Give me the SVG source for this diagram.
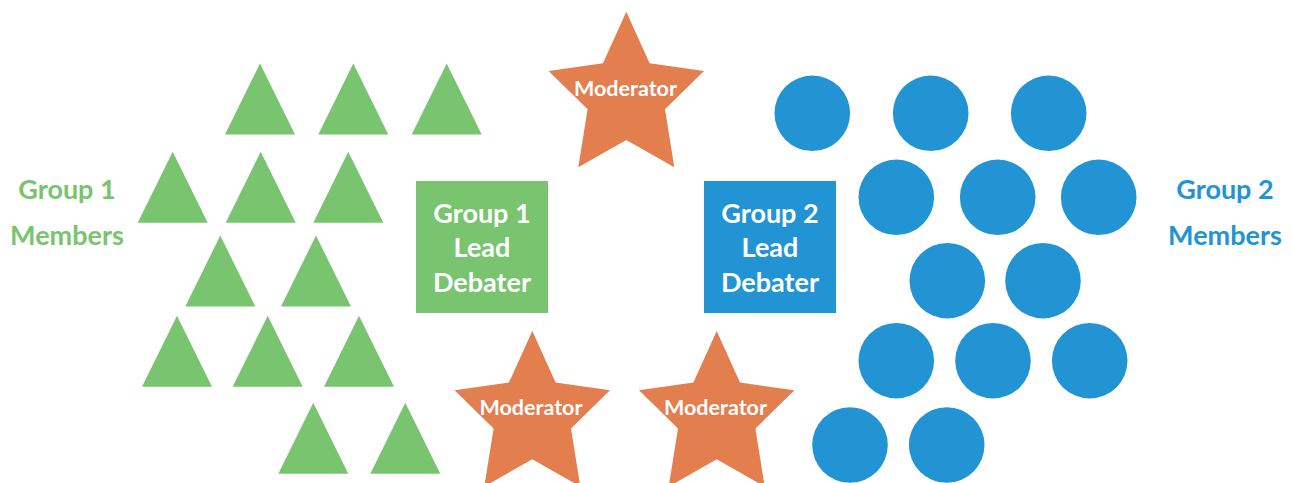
<svg xmlns="http://www.w3.org/2000/svg" width="1293" height="483" viewBox="0 0 1293 483">
  <style>
    .g { fill: #79C46F; }
    .b { fill: #2294D3; }
    .o { fill: #E37E4F; }
    text { font-family: Lato, "Open Sans", "Liberation Sans", sans-serif; font-weight: bold; text-anchor: middle; }
    .lbl { font-size: 27px; }
    .box { font-size: 27px; fill: #fff; }
    .mod { font-size: 21.5px; fill: #fff; }
  </style>
  <defs>
    <polygon id="tri" points="0,0 35,71 -35,71"/>
    <polygon id="star" points="0,-86 23.3,-34.4 77.7,-26.7 38.7,11.6 48,69.6 0,42.3 -48,69.6 -38.7,11.6 -77.7,-26.7 -23.3,-34.4"/>
    <circle id="dot" r="37.8"/>
  </defs>

  <!-- side labels -->
  <g id="label-group1" class="g">
    <text class="lbl" x="67" y="199">Group 1</text>
    <text class="lbl" x="67" y="245">Members</text>
  </g>
  <g id="label-group2" class="b">
    <text class="lbl" x="1225" y="199">Group 2</text>
    <text class="lbl" x="1225" y="245">Members</text>
  </g>

  <!-- group 1 members -->
  <g id="group1-members" class="g">
    <use href="#tri" x="260" y="63.5"/>
    <use href="#tri" x="353.3" y="63.5"/>
    <use href="#tri" x="446.7" y="63.5"/>
    <use href="#tri" x="172.7" y="151.7"/>
    <use href="#tri" x="260.7" y="151.7"/>
    <use href="#tri" x="348.3" y="151.7"/>
    <use href="#tri" x="220.3" y="235.5"/>
    <use href="#tri" x="316" y="235.5"/>
    <use href="#tri" x="177" y="315.7"/>
    <use href="#tri" x="267.7" y="315.7"/>
    <use href="#tri" x="359" y="315.7"/>
    <use href="#tri" x="313.3" y="402.7"/>
    <use href="#tri" x="405.3" y="402.7"/>
  </g>

  <!-- lead debaters -->
  <g id="lead1">
    <rect class="g" x="416" y="181" width="132" height="132"/>
    <text class="box" x="482" y="223">Group 1</text>
    <text class="box" x="482" y="257">Lead</text>
    <text class="box" x="482" y="292">Debater</text>
  </g>
  <g id="lead2">
    <rect class="b" x="704" y="181" width="132" height="132"/>
    <text class="box" x="770" y="223">Group 2</text>
    <text class="box" x="770" y="257">Lead</text>
    <text class="box" x="770" y="292">Debater</text>
  </g>

  <!-- moderators -->
  <g id="moderator-top">
    <use href="#star" class="o" x="626.3" y="97.7"/>
    <text class="mod" x="625.5" y="96">Moderator</text>
  </g>
  <g id="moderator-left">
    <use href="#star" class="o" x="532.3" y="417"/>
    <text class="mod" x="531" y="415">Moderator</text>
  </g>
  <g id="moderator-right">
    <use href="#star" class="o" x="716.7" y="417"/>
    <text class="mod" x="715.5" y="415">Moderator</text>
  </g>

  <!-- group 2 members -->
  <g id="group2-members" class="b">
    <use href="#dot" x="812.3" y="113.3"/>
    <use href="#dot" x="930.7" y="113.3"/>
    <use href="#dot" x="1048.7" y="113.3"/>
    <use href="#dot" x="896.3" y="197.3"/>
    <use href="#dot" x="997.7" y="197.3"/>
    <use href="#dot" x="1098.7" y="197.3"/>
    <use href="#dot" x="947.3" y="280.7"/>
    <use href="#dot" x="1043" y="280.7"/>
    <use href="#dot" x="896.3" y="360.7"/>
    <use href="#dot" x="993" y="360.7"/>
    <use href="#dot" x="1089.7" y="360.7"/>
    <use href="#dot" x="850" y="445"/>
    <use href="#dot" x="946.7" y="445"/>
  </g>

  <!-- no connectors in this figure -->
  <g id="connectors"/>
</svg>
